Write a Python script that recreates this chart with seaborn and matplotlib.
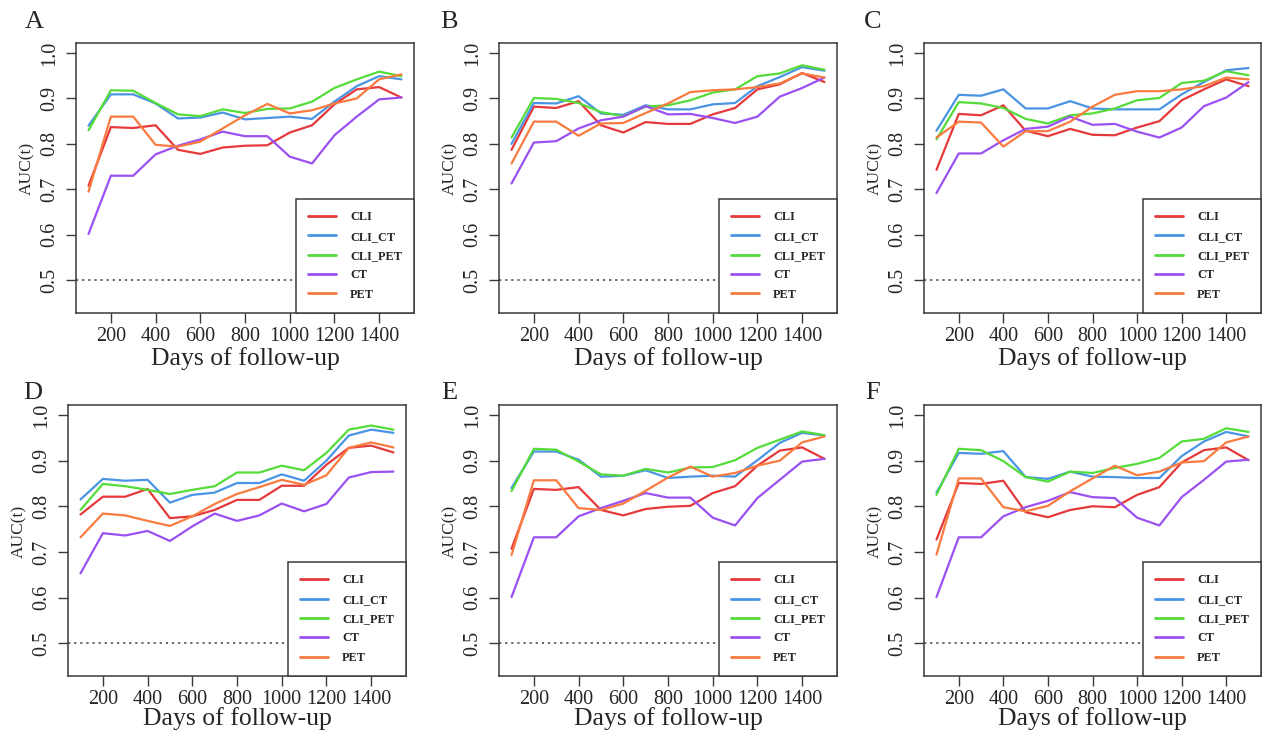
import numpy as np
import pandas as pd
import matplotlib
matplotlib.use("Agg")
from matplotlib import pyplot as plt
import seaborn as sns

# time-dependent AUC curves, six panels (A-F), five models each
days = [100, 200, 300, 400, 500, 600, 700, 800, 900, 1000, 1100, 1200, 1300, 1400, 1500]
models = ["CLI", "CLI_CT", "CLI_PET", "CT", "PET"]
panel_labels = ["A", "B", "C", "D", "E", "F"]

auc_A = {
    "CLI":     [0.708, 0.837, 0.835, 0.841, 0.787, 0.778, 0.792, 0.796, 0.797, 0.825, 0.841, 0.887, 0.920, 0.925, 0.902],
    "CLI_CT":  [0.840, 0.909, 0.909, 0.889, 0.856, 0.858, 0.869, 0.854, 0.857, 0.860, 0.855, 0.893, 0.927, 0.949, 0.942],
    "CLI_PET": [0.830, 0.918, 0.917, 0.890, 0.865, 0.861, 0.876, 0.868, 0.877, 0.878, 0.893, 0.923, 0.942, 0.959, 0.949],
    "CT":      [0.602, 0.730, 0.730, 0.777, 0.796, 0.810, 0.827, 0.817, 0.817, 0.772, 0.757, 0.819, 0.860, 0.898, 0.902],
    "PET":     [0.695, 0.860, 0.860, 0.798, 0.794, 0.805, 0.834, 0.863, 0.888, 0.867, 0.874, 0.889, 0.900, 0.942, 0.953],
}
auc_B = {
    "CLI":     [0.787, 0.882, 0.879, 0.894, 0.841, 0.825, 0.848, 0.844, 0.844, 0.865, 0.879, 0.920, 0.931, 0.956, 0.936],
    "CLI_CT":  [0.800, 0.890, 0.889, 0.905, 0.867, 0.864, 0.885, 0.876, 0.876, 0.887, 0.890, 0.927, 0.947, 0.969, 0.961],
    "CLI_PET": [0.814, 0.901, 0.899, 0.890, 0.870, 0.861, 0.882, 0.885, 0.896, 0.913, 0.920, 0.949, 0.955, 0.973, 0.963],
    "CT":      [0.713, 0.803, 0.806, 0.834, 0.852, 0.860, 0.883, 0.865, 0.866, 0.857, 0.846, 0.860, 0.904, 0.923, 0.946],
    "PET":     [0.757, 0.849, 0.849, 0.818, 0.845, 0.846, 0.868, 0.889, 0.914, 0.918, 0.920, 0.925, 0.933, 0.955, 0.946],
}
auc_C = {
    "CLI":     [0.743, 0.866, 0.863, 0.885, 0.829, 0.817, 0.833, 0.820, 0.819, 0.836, 0.850, 0.896, 0.920, 0.942, 0.927],
    "CLI_CT":  [0.829, 0.908, 0.906, 0.920, 0.878, 0.878, 0.894, 0.878, 0.876, 0.876, 0.876, 0.909, 0.936, 0.962, 0.967],
    "CLI_PET": [0.810, 0.892, 0.889, 0.879, 0.855, 0.845, 0.863, 0.867, 0.878, 0.896, 0.901, 0.934, 0.939, 0.960, 0.951],
    "CT":      [0.692, 0.779, 0.779, 0.808, 0.833, 0.838, 0.860, 0.842, 0.844, 0.827, 0.814, 0.836, 0.883, 0.902, 0.936],
    "PET":     [0.814, 0.849, 0.847, 0.794, 0.828, 0.828, 0.849, 0.882, 0.908, 0.916, 0.916, 0.920, 0.927, 0.946, 0.942],
}
auc_D = {
    "CLI":     [0.782, 0.821, 0.821, 0.838, 0.774, 0.778, 0.792, 0.814, 0.814, 0.845, 0.845, 0.891, 0.928, 0.933, 0.918],
    "CLI_CT":  [0.815, 0.860, 0.856, 0.858, 0.808, 0.825, 0.830, 0.851, 0.851, 0.870, 0.856, 0.900, 0.955, 0.968, 0.961],
    "CLI_PET": [0.792, 0.849, 0.844, 0.836, 0.827, 0.836, 0.844, 0.874, 0.874, 0.889, 0.879, 0.917, 0.968, 0.977, 0.968],
    "CT":      [0.653, 0.741, 0.736, 0.746, 0.724, 0.756, 0.784, 0.768, 0.780, 0.806, 0.789, 0.805, 0.863, 0.875, 0.876],
    "PET":     [0.732, 0.784, 0.780, 0.768, 0.757, 0.778, 0.805, 0.827, 0.842, 0.858, 0.847, 0.868, 0.928, 0.940, 0.929],
}
auc_E = {
    "CLI":     [0.707, 0.838, 0.836, 0.842, 0.792, 0.780, 0.794, 0.799, 0.801, 0.829, 0.844, 0.889, 0.922, 0.929, 0.904],
    "CLI_CT":  [0.840, 0.920, 0.920, 0.902, 0.865, 0.867, 0.879, 0.862, 0.865, 0.867, 0.865, 0.901, 0.939, 0.961, 0.955],
    "CLI_PET": [0.833, 0.926, 0.924, 0.898, 0.870, 0.867, 0.882, 0.874, 0.885, 0.886, 0.901, 0.928, 0.946, 0.964, 0.956],
    "CT":      [0.601, 0.732, 0.732, 0.778, 0.796, 0.812, 0.829, 0.819, 0.819, 0.775, 0.758, 0.818, 0.858, 0.898, 0.904],
    "PET":     [0.693, 0.857, 0.857, 0.796, 0.792, 0.806, 0.834, 0.863, 0.887, 0.865, 0.873, 0.889, 0.900, 0.940, 0.953],
}
auc_F = {
    "CLI":     [0.727, 0.851, 0.849, 0.856, 0.787, 0.776, 0.792, 0.800, 0.798, 0.825, 0.842, 0.896, 0.923, 0.929, 0.901],
    "CLI_CT":  [0.830, 0.917, 0.915, 0.921, 0.864, 0.860, 0.876, 0.865, 0.864, 0.862, 0.862, 0.910, 0.942, 0.963, 0.953],
    "CLI_PET": [0.825, 0.926, 0.923, 0.899, 0.864, 0.854, 0.876, 0.873, 0.884, 0.893, 0.906, 0.942, 0.948, 0.971, 0.963],
    "CT":      [0.601, 0.732, 0.732, 0.778, 0.798, 0.812, 0.831, 0.820, 0.818, 0.775, 0.758, 0.820, 0.858, 0.898, 0.902],
    "PET":     [0.694, 0.861, 0.861, 0.798, 0.789, 0.801, 0.833, 0.861, 0.889, 0.868, 0.876, 0.896, 0.899, 0.940, 0.953],
}
panels = [auc_A, auc_B, auc_C, auc_D, auc_E, auc_F]

colors = {"CLI": "#E5393B", "CLI_CT": "#4A94E4", "CLI_PET": "#55DB3A",
          "CT": "#9B50F2", "PET": "#F97B3F"}

sns.set_style("white")
plt.rcParams["font.family"] = ["Liberation Serif", "DejaVu Serif"]

W, H = 1263, 737
fig = plt.figure(figsize=(W / 100, H / 100), dpi=100)

# axes boxes in pixels: left, right, top, bottom
boxes = [(76, 414, 43, 313), (499, 837, 43, 313), (924, 1261, 43, 313),
         (68, 406, 405, 676), (499, 837, 405, 676), (924, 1261, 405, 676)]
letter_pos = [(34, 22), (449, 22), (873, 22), (33, 393), (449, 393), (873, 393)]
frame_col = "#3a3a3a"

for i, auc in enumerate(panels):
    l, r, t, b = boxes[i]
    ax = fig.add_axes([l / W, 1 - b / H, (r - l) / W, (b - t) / H])
    df = pd.DataFrame({
        "days": days * len(models),
        "auc": sum([auc[m] for m in models], []),
        "model": sum([[m] * len(days) for m in models], []),
    })
    ax.axhline(0.5, color="#444444", lw=1.1, ls=(0, (1.5, 2.5)), zorder=1)
    sns.lineplot(data=df, x="days", y="auc", hue="model", hue_order=models,
                 palette=colors, linewidth=1.6, ax=ax, zorder=3)
    ax.set_xlim(44, 1556)
    ax.set_ylim(0.428, 1.022)
    ax.set_xticks([200, 400, 600, 800, 1000, 1200, 1400])
    ax.set_xticklabels(["200", "400", "600", "800", "1000", "1200", "1400"], fontsize=14.5)
    ax.set_yticks([0.5, 0.6, 0.7, 0.8, 0.9, 1.0])
    ax.set_yticklabels(["0.5", "0.6", "0.7", "0.8", "0.9", "1.0"], fontsize=14.5,
                       rotation=90, va="center")
    ax.tick_params(axis="both", direction="out", length=7, width=1,
                   color=frame_col, left=True, bottom=True)
    ax.tick_params(axis="x", pad=3)
    ax.tick_params(axis="y", pad=5)
    for sp in ax.spines.values():
        sp.set_color(frame_col)
        sp.set_linewidth(1.1)
    ax.set_ylabel("AUC(t)", fontsize=12.5)
    ax.yaxis.set_label_coords(-41 / (r - l), 0.535)
    ax.set_xlabel("Days of follow-up", fontsize=18.5)
    xl_top = 34 if i < 3 else 31
    ax.xaxis.set_label_coords(0.5, -xl_top / (b - t))

    old = ax.get_legend()
    handles = old.legend_handles
    labels = [tx.get_text() for tx in old.get_texts()]
    for h in handles:
        h.set_linewidth(2.0)
    leg = ax.legend(handles, labels, loc="lower right", borderaxespad=0,
                    prop={"size": 8.8, "weight": "bold"}, handlelength=2.3,
                    handletextpad=1.1, labelspacing=0.6, borderpad=1.0,
                    fancybox=False, frameon=True, framealpha=1,
                    facecolor="white", edgecolor=frame_col)
    leg.get_frame().set_linewidth(1.1)
    leg.set_zorder(5)

    fx, fy = letter_pos[i]
    fig.text(fx / W, 1 - fy / H, panel_labels[i], fontsize=19, ha="center", va="center")

fig.savefig("out.png", dpi=100)
